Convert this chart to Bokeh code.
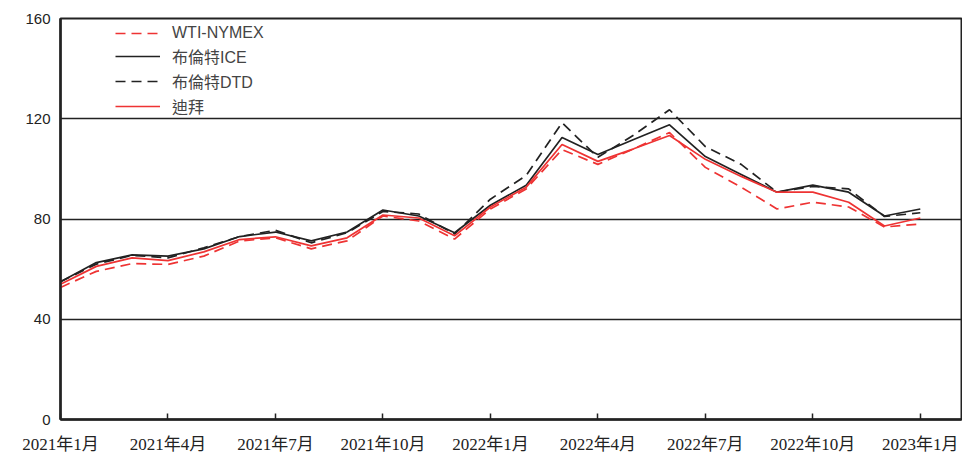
from bokeh.plotting import figure
from bokeh.models import Range1d, FixedTicker, Legend, LegendItem, ColumnDataSource
from bokeh.embed import file_html
from bokeh.resources import INLINE

months = list(range(25))
tick_positions = [0, 3, 6, 9, 12, 15, 18, 21, 24]
tick_labels = ["2021年1月", "2021年4月", "2021年7月", "2021年10月", "2022年1月",
               "2022年4月", "2022年7月", "2022年10月", "2023年1月"]

wti = [52.7, 59.1, 62.2, 61.9, 65.2, 71.2, 72.5, 68.1, 71.3, 81.2, 79.2, 72.0, 84.0,
       92.0, 107.7, 101.8, 108.0, 114.5, 100.6, 92.7, 84.0, 86.7, 84.8, 76.8, 78.0]
brent_ice = [55.0, 62.6, 65.7, 65.2, 68.1, 73.0, 74.8, 71.3, 74.8, 83.6, 81.2, 74.5, 85.5,
             93.5, 112.5, 105.7, 111.7, 117.6, 104.9, 97.8, 90.7, 93.5, 90.7, 81.2, 84.0]
brent_dtd = [55.0, 62.0, 65.5, 64.5, 68.5, 73.0, 75.5, 70.5, 74.5, 83.0, 82.0, 74.0, 87.9,
             97.4, 118.4, 104.6, 113.5, 123.6, 108.9, 101.8, 90.7, 93.0, 92.0, 81.0, 82.5]
dubai = [54.0, 61.1, 64.5, 63.4, 66.9, 71.8, 72.9, 69.3, 72.5, 81.6, 80.4, 73.3, 84.8,
         92.7, 109.7, 103.0, 108.0, 113.3, 103.8, 97.0, 90.7, 90.7, 86.7, 77.2, 80.4]

series_names = ["WTI-NYMEX", "布倫特ICE", "布倫特DTD", "迪拜"]

RED = "#ee3333"
BLACK = "#222222"

p = figure(width=962, height=456, output_backend="svg", toolbar_location=None,
           x_range=Range1d(0, 25.15), y_range=Range1d(0, 160),
           min_border_left=60, min_border_right=1, min_border_top=18, min_border_bottom=34)

p.outline_line_color = "#222222"
p.outline_line_width = 2

src = ColumnDataSource(dict(m=months, wti=wti, ice=brent_ice, dtd=brent_dtd, dubai=dubai))

r_wti = p.line("m", "wti", source=src, line_color=RED, line_width=1.7, line_dash="10 6")
r_ice = p.line("m", "ice", source=src, line_color=BLACK, line_width=1.7)
r_dtd = p.line("m", "dtd", source=src, line_color=BLACK, line_width=1.7, line_dash="10 6")
r_dubai = p.line("m", "dubai", source=src, line_color=RED, line_width=1.7)

# axes
p.xaxis.ticker = FixedTicker(ticks=tick_positions)
p.xaxis.major_label_overrides = {t: l for t, l in zip(tick_positions, tick_labels)}
p.xaxis.major_tick_in = 6
p.xaxis.major_tick_out = 0
p.xaxis.minor_tick_line_color = None
p.xaxis.axis_line_width = 2.5
p.xaxis.axis_line_color = "#222222"
p.xaxis.major_tick_line_color = "#222222"
p.xaxis.major_tick_line_width = 1.5
p.xaxis.major_label_standoff = 15
p.xaxis.major_label_text_font = "'Liberation Serif', 'Noto Sans CJK TC', serif"
p.xaxis.major_label_text_font_size = "17px"
p.xaxis.major_label_text_color = "#222222"

p.yaxis.ticker = FixedTicker(ticks=[0, 40, 80, 120, 160])
p.yaxis.major_tick_in = 0
p.yaxis.major_tick_out = 0
p.yaxis.minor_tick_line_color = None
p.yaxis.axis_line_width = 2.5
p.yaxis.axis_line_color = "#222222"
p.yaxis.major_label_standoff = 10
p.yaxis.major_label_text_font = "Liberation Sans"
p.yaxis.major_label_text_font_size = "15px"
p.yaxis.major_label_text_color = "#222222"

p.xgrid.grid_line_color = None
p.ygrid.ticker = FixedTicker(ticks=[40, 80, 120])
p.ygrid.grid_line_color = "#222222"
p.ygrid.grid_line_width = 1.5

legend = Legend(items=[LegendItem(label=n, renderers=[r]) for n, r in
                       zip(series_names, [r_wti, r_ice, r_dtd, r_dubai])],
                location=(55, 301), padding=0, margin=0, spacing=1,
                glyph_width=45, glyph_height=20, label_height=20, label_standoff=12,
                label_text_font="Liberation Sans, Noto Sans CJK TC",
                label_text_font_size="16px", label_text_color="#444444",
                background_fill_alpha=0, border_line_alpha=0)
p.add_layout(legend, "center")

open("out.html", "w").write(file_html(p, INLINE))
